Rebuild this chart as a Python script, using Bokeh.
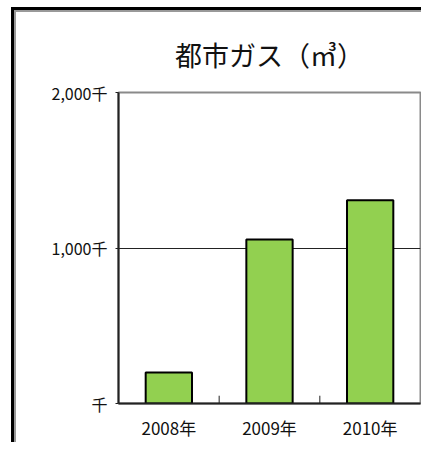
from bokeh.plotting import figure
from bokeh.models import FixedTicker, ColumnDataSource, Range1d
from bokeh.transform import dodge
from bokeh.embed import file_html
from bokeh.resources import INLINE

years = ["2008年", "2009年", "2010年"]
values = [200, 1055, 1307]
y_ticks = [0, 1000, 2000]
y_tick_labels = {0: "千", 1000: "1,000千", 2000: "2,000千"}
title_text = "都市ガス（㎥）"

FONT = "Noto Sans CJK JP"

p = figure(x_range=years, y_range=Range1d(0, 2000), width=410, height=435,
           output_backend="svg", toolbar_location=None,
           min_border_left=102, min_border_right=6, min_border_top=80, min_border_bottom=44)
p.styles = {"margin-left": "11px", "margin-top": "7px",
            "border-top": "3px solid black", "border-left": "3px solid black",
            "padding-left": "2px", "padding-top": "2px",
            "box-shadow": "inset 2px 2px 0 #999999"}

p.title.text = title_text
p.title.align = "center"
p.title.text_font = FONT
p.title.text_font_size = "27px"
p.title.text_font_style = "normal"
p.title.text_color = "#111111"
p.title.standoff = 38

src = ColumnDataSource(dict(x=years, top=values))
p.vbar(x="x", top="top", width=0.46, source=src, fill_color="#92D050",
       line_color="black", line_width=2)

# small tick marks at category boundaries
bsrc = ColumnDataSource(dict(x=years[:-1]))
p.segment(x0=dodge("x", 0.5, range=p.x_range), x1=dodge("x", 0.5, range=p.x_range),
          y0=0, y1=50, source=bsrc, line_color="#222222", line_width=1)

p.yaxis.ticker = FixedTicker(ticks=y_ticks)
p.yaxis.major_label_overrides = y_tick_labels
p.yaxis.major_label_text_font = FONT
p.yaxis.major_label_text_font_size = "16px"
p.yaxis.major_label_text_color = "#111111"
p.yaxis.major_tick_in = 0
p.yaxis.major_tick_out = 3
p.yaxis.minor_tick_line_color = None
p.yaxis.major_label_standoff = 8
p.yaxis.axis_line_color = "#222222"
p.yaxis.axis_line_width = 2
p.yaxis.major_tick_line_color = "#222222"

p.xaxis.major_label_text_font = FONT
p.xaxis.major_label_text_font_size = "17px"
p.xaxis.major_label_text_color = "#111111"
p.xaxis.major_tick_line_color = None
p.xaxis.major_label_standoff = 5
p.xaxis.axis_line_color = "#222222"
p.xaxis.axis_line_width = 2

p.xgrid.grid_line_color = None
p.ygrid.ticker = FixedTicker(ticks=[1000])
p.ygrid.grid_line_color = "#222222"
p.ygrid.grid_line_width = 1

p.outline_line_color = "#8a8a8a"
p.outline_line_width = 2
p.x_range.range_padding = 0

open("out.html", "w").write(file_html(p, INLINE))
